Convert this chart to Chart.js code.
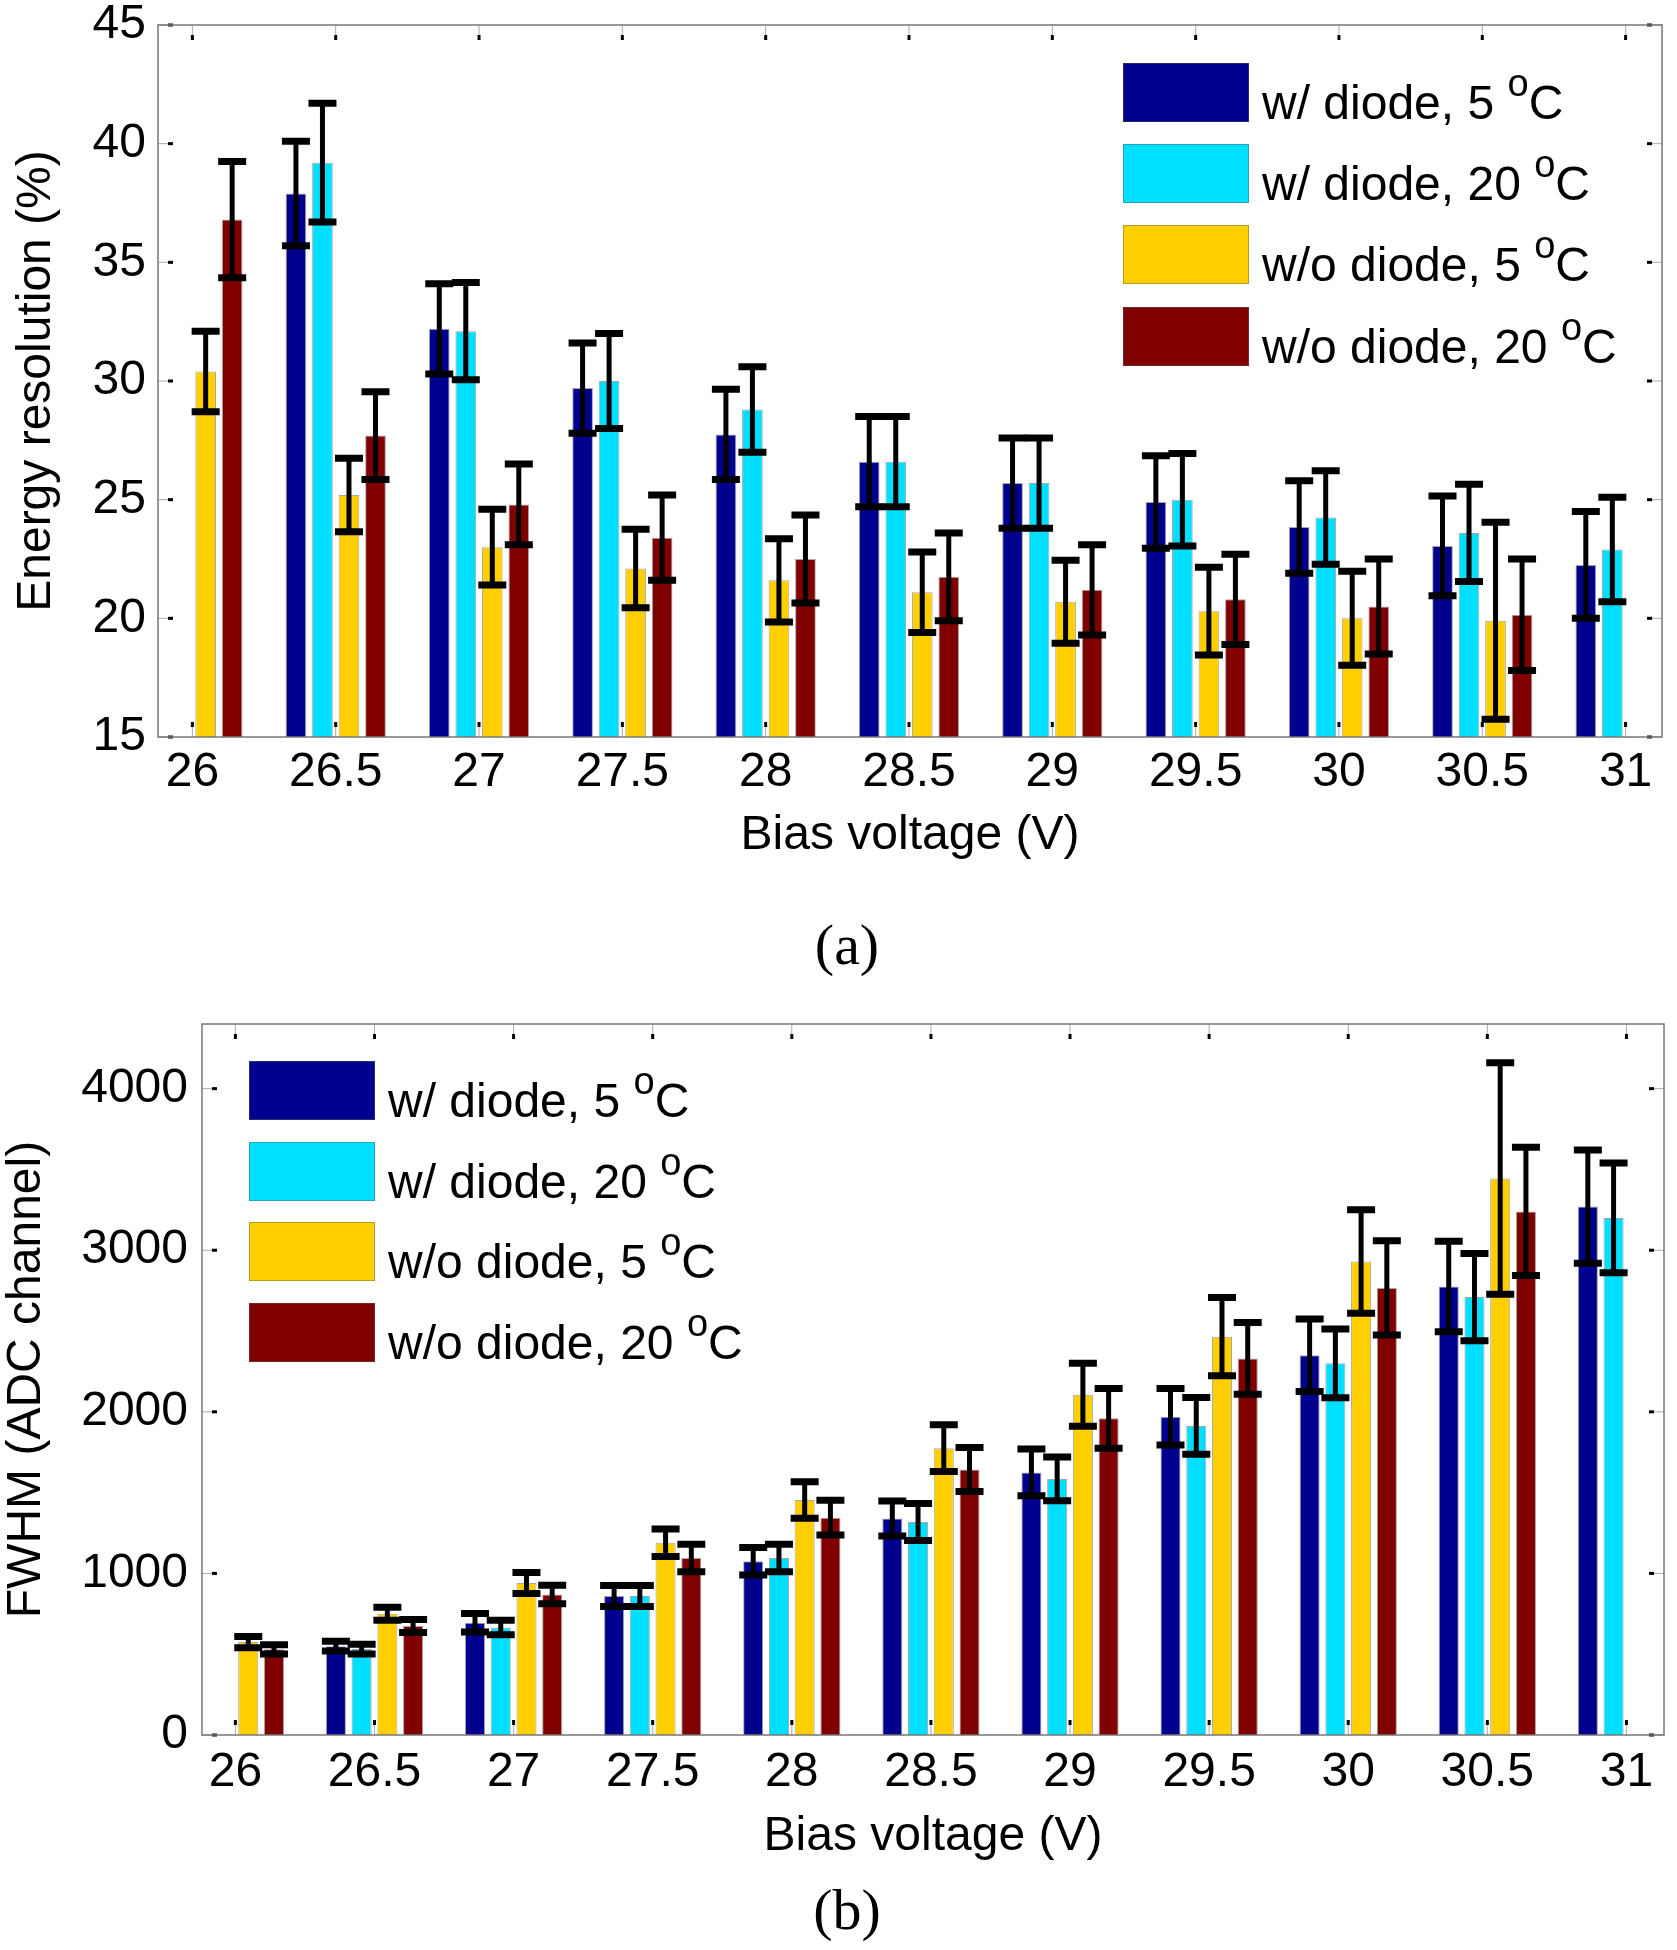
<!DOCTYPE html>
<html>
<head>
<meta charset="utf-8">
<script src="https://cdn.jsdelivr.net/npm/chart.js@4.4.1/dist/chart.umd.min.js"></script>
<style>
  body { margin: 0; background: #fff; }
  #page { position: relative; width: 1677px; height: 1950px; background: #fff; overflow: hidden; }
  canvas { position: absolute; left: 0; }
  .lbox { position: absolute; width: 126px; height: 59px; border: 1px solid rgba(90,90,90,0.45); box-sizing: border-box; }
  .ltxt { position: absolute; font-family: 'Liberation Sans', Arial, sans-serif; font-size: 48px; line-height: 48px; color: #000; white-space: nowrap; }
  .ltxt span { position: relative; top: -23px; font-size: 38px; }
  .cap { position: absolute; left: 747px; width: 200px; text-align: center; font-family: 'Liberation Serif', 'Times New Roman', serif; font-size: 58px; line-height: 58px; color: #000; }
</style>
</head>
<body>
<div id="page">
  <canvas id="chartA" width="1677" height="900" style="top:0"></canvas>
  <canvas id="chartB" width="1677" height="940" style="top:940px"></canvas>
  <div class="cap" style="top:916px">(a)</div>
  <div class="cap" style="top:1881px">(b)</div>
</div>
<script>
// bias voltages and tick labels
const voltages = [26, 26.5, 27, 27.5, 28, 28.5, 29, 29.5, 30, 30.5, 31];
const xTickLabels = ['26', '26.5', '27', '27.5', '28', '28.5', '29', '29.5', '30', '30.5', '31'];

const seriesNames = ['w/ diode, 5', 'w/ diode, 20', 'w/o diode, 5', 'w/o diode, 20'];
const seriesColors = ['#00008f', '#00dfff', '#ffcf00', '#800000'];

// (a) energy resolution, %
const resWd5 = [null, 37.9, 32.2, 29.7, 27.75, 26.6, 25.7, 24.9, 23.85, 23.05, 22.25];
const resWd5Err = [null, 2.2, 1.9, 1.9, 1.9, 1.9, 1.9, 1.95, 1.95, 2.1, 2.25];
const resWd20 = [null, 39.2, 32.1, 30.0, 28.8, 26.6, 25.7, 25.0, 24.25, 23.6, 22.9];
const resWd20Err = [null, 2.5, 2.05, 2.0, 1.8, 1.9, 1.9, 1.95, 1.97, 2.05, 2.2];
const resWo5 = [30.4, 25.2, 23.0, 22.1, 21.6, 21.1, 20.7, 20.3, 20.0, 19.9, null];
const resWo5Err = [1.7, 1.55, 1.6, 1.65, 1.75, 1.7, 1.75, 1.85, 1.98, 4.15, null];
const resWo20 = [36.8, 27.7, 24.8, 23.4, 22.5, 21.75, 21.2, 20.8, 20.5, 20.15, null];
const resWo20Err = [2.45, 1.85, 1.7, 1.8, 1.85, 1.85, 1.9, 1.9, 2.0, 2.35, null];
const resTicks = [15, 20, 25, 30, 35, 40, 45];

// (b) FWHM, ADC channel
const fwWd5 = [null, 550, 695, 860, 1075, 1340, 1625, 1970, 2350, 2775, 3270];
const fwWd5Err = [null, 30, 57, 65, 85, 108, 145, 175, 224, 280, 350];
const fwWd20 = [null, 532, 665, 860, 1095, 1318, 1585, 1913, 2300, 2710, 3200];
const fwWd20Err = [null, 30, 45, 65, 85, 115, 135, 175, 213, 270, 340];
const fwWo5 = [575, 750, 940, 1190, 1454, 1775, 2105, 2465, 2930, 3444, null];
const fwWo5Err = [35, 40, 65, 85, 113, 145, 195, 242, 320, 716, null];
const fwWo20 = [530, 675, 870, 1095, 1345, 1643, 1960, 2330, 2767, 3240, null];
const fwWo20Err = [28, 40, 57, 85, 108, 136, 185, 222, 291, 397, null];
const fwTicks = [0, 1000, 2000, 3000, 4000];

Chart.defaults.font.family = "'Liberation Sans', Arial, sans-serif";
Chart.defaults.color = '#000';

// error bars drawn from each dataset's errors array
const errorBars = {
  id: 'errorBars',
  afterDatasetsDraw(chart) {
    const ctx = chart.ctx;
    const y = chart.scales.y;
    ctx.save();
    ctx.strokeStyle = '#000';
    chart.data.datasets.forEach((ds, i) => {
      const meta = chart.getDatasetMeta(i);
      meta.data.forEach((bar, j) => {
        const v = ds.data[j].y;
        const e = ds.errors[j];
        if (v == null || e == null) return;
        const top = y.getPixelForValue(v + e);
        const bot = y.getPixelForValue(v - e);
        ctx.lineWidth = 5;
        ctx.beginPath();
        ctx.moveTo(bar.x, top);
        ctx.lineTo(bar.x, bot);
        ctx.stroke();
        ctx.lineWidth = 7;
        ctx.beginPath();
        ctx.moveTo(bar.x - 14, top);
        ctx.lineTo(bar.x + 14, top);
        ctx.moveTo(bar.x - 14, bot);
        ctx.lineTo(bar.x + 14, bot);
        ctx.stroke();
      });
    });
    ctx.restore();
  }
};

function innerTick(ctx, x0, y0, dx, dy) {
  ctx.strokeStyle = '#aaa';
  ctx.lineWidth = 1;
  ctx.beginPath();
  ctx.moveTo(x0, y0);
  ctx.lineTo(x0 + dx * 14, y0 + dy * 14);
  ctx.stroke();
  ctx.strokeStyle = '#000';
  ctx.lineWidth = 3;
  ctx.beginPath();
  ctx.moveTo(x0 + dx * 10, y0 + dy * 10);
  ctx.lineTo(x0 + dx * 15, y0 + dy * 15);
  ctx.stroke();
}

// matlab style box with inward ticks
const frame = {
  id: 'frame',
  beforeDatasetsDraw(chart) {
    const {ctx, chartArea: a, scales: {x, y}} = chart;
    ctx.save();
    x.ticks.forEach(t => {
      const px = x.getPixelForValue(t.value);
      innerTick(ctx, px, a.bottom, 0, -1);
      innerTick(ctx, px, a.top, 0, 1);
    });
    y.ticks.forEach(t => {
      const py = y.getPixelForValue(t.value);
      innerTick(ctx, a.left, py, 1, 0);
      innerTick(ctx, a.right, py, -1, 0);
    });
    ctx.restore();
  },
  afterDatasetsDraw(chart) {
    const {ctx, chartArea: a} = chart;
    ctx.save();
    ctx.strokeStyle = '#777';
    ctx.lineWidth = 1.5;
    ctx.strokeRect(a.left, a.top, a.right - a.left, a.bottom - a.top);
    ctx.restore();
  }
};

function makeDatasets(values, errors) {
  return values.map((arr, k) => ({
    label: seriesNames[k] + ' °C',
    data: voltages.map((v, i) => ({x: v, y: arr[i]})),
    errors: errors[k],
    backgroundColor: seriesColors[k],
    borderColor: 'rgba(60,60,60,0.45)',
    borderWidth: 1,
    borderSkipped: 'start',
    categoryPercentage: 0.74,
    barPercentage: 0.78
  }));
}

function makeConfig(p) {
  return {
    type: 'bar',
    data: {datasets: makeDatasets(p.values, p.errors)},
    options: {
      responsive: false,
      animation: false,
      layout: {padding: p.padding},
      plugins: {legend: {display: false}, tooltip: {enabled: false}},
      scales: {
        x: {
          type: 'linear',
          min: p.xMin,
          max: p.xMax,
          offset: false,
          grid: {display: false, drawTicks: false},
          border: {display: false},
          afterBuildTicks: s => { s.ticks = voltages.map(v => ({value: v})); },
          afterFit: s => { s.height = p.xHeight; s.paddingLeft = 0; s.paddingRight = 0; },
          ticks: {
            autoSkip: false,
            maxRotation: 0,
            padding: p.xTickPad,
            font: {size: 48},
            callback: (v, i) => xTickLabels[i]
          },
          title: {
            display: true,
            text: 'Bias voltage (V)',
            font: {size: 48},
            padding: {top: 0, bottom: p.xTitlePad}
          }
        },
        y: {
          min: p.yMin,
          max: p.yMax,
          grid: {display: false, drawTicks: false},
          border: {display: false},
          afterBuildTicks: s => { s.ticks = p.yTicks.map(v => ({value: v})); },
          afterFit: s => { s.width = p.yWidth; s.paddingTop = 0; s.paddingBottom = 0; },
          ticks: {padding: p.yTickPad, font: {size: 48}, callback: v => String(v)},
          title: {
            display: true,
            text: p.yTitle,
            font: {size: 48, lineHeight: 1.1},
            padding: {top: p.yTitlePad, bottom: 0}
          }
        }
      }
    },
    plugins: [frame, errorBars]
  };
}

new Chart(document.getElementById('chartA'), makeConfig({
  values: [resWd5, resWd20, resWo5, resWo20],
  errors: [resWd5Err, resWd20Err, resWo5Err, resWo20Err],
  padding: {top: 25, right: 15, left: 0, bottom: 0},
  xMin: 25.88, xMax: 31.127,
  xHeight: 163, xTickPad: 7, xTitlePad: 35,
  yMin: 15, yMax: 45, yTicks: resTicks,
  yWidth: 158, yTickPad: 12, yTitlePad: 10,
  yTitle: 'Energy resolution (%)'
}));

new Chart(document.getElementById('chartB'), makeConfig({
  values: [fwWd5, fwWd20, fwWo5, fwWo20],
  errors: [fwWd5Err, fwWd20Err, fwWo5Err, fwWo20Err],
  padding: {top: 84, right: 13, left: 0, bottom: 0},
  xMin: 25.88, xMax: 31.135,
  xHeight: 145, xTickPad: 9, xTitlePad: 14,
  yMin: 0, yMax: 4400, yTicks: fwTicks,
  yWidth: 202, yTickPad: 14, yTitlePad: 0,
  yTitle: 'FWHM (ADC channel)'
}));

// legends as html text, superscript degree mark
function addLegend(boxLeft, textLeft, tops) {
  const page = document.getElementById('page');
  seriesNames.forEach((name, k) => {
    const box = document.createElement('div');
    box.className = 'lbox';
    box.style.left = boxLeft + 'px';
    box.style.top = tops[k] + 'px';
    box.style.background = seriesColors[k];
    page.appendChild(box);
    const txt = document.createElement('div');
    txt.className = 'ltxt';
    txt.style.left = textLeft + 'px';
    txt.style.top = (tops[k] + 16) + 'px';
    txt.innerHTML = name + ' <span>o</span>C';
    page.appendChild(txt);
  });
}
addLegend(1123, 1262, [63, 144, 225, 307]);
addLegend(249, 388, [1061, 1142, 1222, 1303]);
</script>
</body>
</html>
